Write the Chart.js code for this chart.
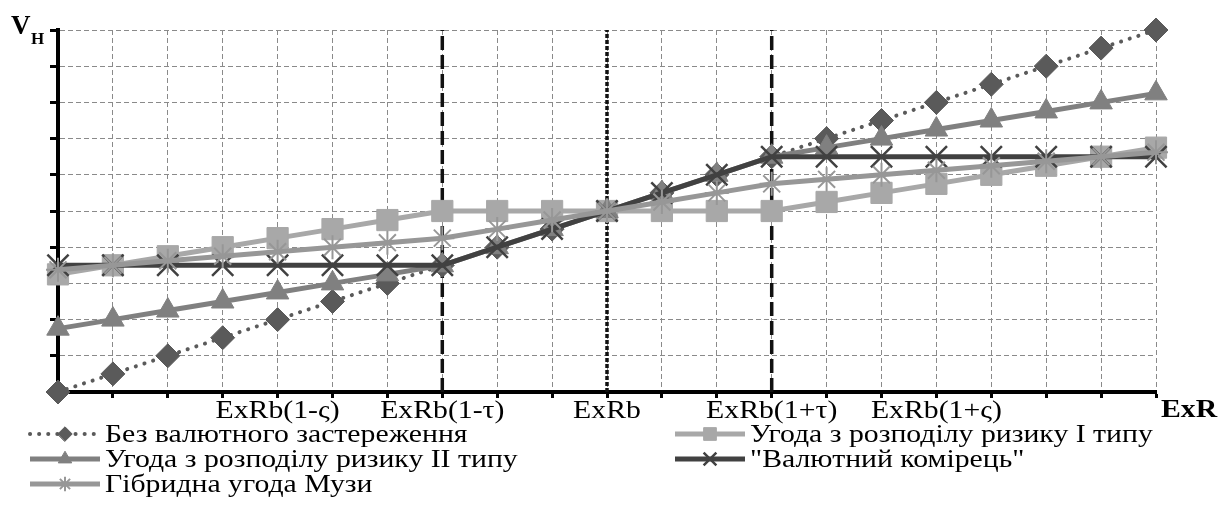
<!DOCTYPE html>
<html lang="uk">
<head>
<meta charset="UTF-8">
<title>Вартість угоди залежно від курсу</title>
<script src="https://cdn.jsdelivr.net/npm/chart.js"></script>
<style>
  html, body { margin: 0; padding: 0; background: #fff; }
  #wrap { width: 1220px; height: 525px; }
</style>
</head>
<body>
<div id="wrap"><canvas id="chart" width="1220" height="525"></canvas></div>
<script>
// exchange-rate steps along the x axis
const steps = [0, 1, 2, 3, 4, 5, 6, 7, 8, 9, 10, 11, 12, 13, 14, 15, 16, 17, 18, 19, 20];
const tickLabels = ['', '', '', '', 'ExRb(1-ς)', '', '', 'ExRb(1-τ)', '', '', 'ExRb',
  '', '', 'ExRb(1+τ)', '', '', 'ExRb(1+ς)', '', '', '', ''];

// V_H for each contract type
const noClause = [0, 0.5, 1, 1.5, 2, 2.5, 3, 3.5, 4, 4.5, 5, 5.5, 6, 6.5, 7, 7.5, 8, 8.5, 9, 9.5, 10];
const riskShare1 = [3.25, 3.5, 3.75, 4, 4.25, 4.5, 4.75, 5, 5, 5, 5, 5, 5, 5, 5.25, 5.5, 5.75, 6, 6.25, 6.5, 6.75];
const riskShare2 = [1.75, 2, 2.25, 2.5, 2.75, 3, 3.25, 3.5, 4, 4.5, 5, 5.5, 6, 6.5, 6.75, 7, 7.25, 7.5, 7.75, 8, 8.25];
const collar = [3.5, 3.5, 3.5, 3.5, 3.5, 3.5, 3.5, 3.5, 4, 4.5, 5, 5.5, 6, 6.5, 6.5, 6.5, 6.5, 6.5, 6.5, 6.5, 6.5];
const hybrid = [3.375, 3.5, 3.625, 3.75, 3.875, 4, 4.125, 4.25, 4.5, 4.75, 5, 5.25, 5.5, 5.75, 5.875, 6, 6.125, 6.25, 6.375, 6.5, 6.625];

const seriesNames = [
  'Без валютного застереження',
  'Угода з розподілу ризику I типу',
  'Угода з розподілу ризику II типу',
  '"Валютний комірець"',
  'Гібридна угода Музи'
];

// vertical boundaries: ExRb(1-τ), ExRb, ExRb(1+τ)
const boundaries = [7, 10, 13];

const toXY = (vals) => steps.map((x, i) => ({ x: x, y: vals[i] }));

const serif = '"Liberation Serif", "Times New Roman", serif';
const stretch = 1.19; // the source text is set wide

const series = [
  { label: seriesNames[0], data: toXY(noClause), borderColor: '#5a5a5a', backgroundColor: '#5a5a5a',
    borderWidth: 4, borderDash: [0.1, 9], borderCapStyle: 'round',
    pointStyle: 'rectRot', pointRadius: 12, pointBorderWidth: 1, order: 5 },
  { label: seriesNames[1], data: toXY(riskShare1), borderColor: '#a8a8a8', backgroundColor: '#a8a8a8',
    borderWidth: 5, pointStyle: 'rect', pointRadius: 15, pointBorderWidth: 1, order: 4 },
  { label: seriesNames[2], data: toXY(riskShare2), borderColor: '#808080', backgroundColor: '#808080',
    borderWidth: 5, pointStyle: 'triangle', pointRadius: 13, pointBorderWidth: 1, order: 3 },
  { label: seriesNames[3], data: toXY(collar), borderColor: '#414141', backgroundColor: '#414141',
    borderWidth: 5, pointStyle: 'crossRot', pointRadius: 15, pointBorderWidth: 2.5, order: 2 },
  { label: seriesNames[4], data: toXY(hybrid), borderColor: '#979797', backgroundColor: '#979797',
    borderWidth: 5, pointStyle: 'star', pointRadius: 12, pointBorderWidth: 2, order: 1 }
];

const boundaryLines = boundaries.map((b) => ({
  label: 'b' + b,
  data: [{ x: b, y: 0 }, { x: b, y: 10 }],
  borderColor: '#111',
  borderWidth: 3.5,
  borderDash: b === 10 ? [4, 2] : [14, 5],
  pointRadius: 0,
  order: 10
}));

// legend slots: [column x of line start, row]
const legendSlots = [[30, 0], [675, 0], [30, 1], [675, 1], [30, 2]];

function wideText(ctx, text, x, y, align) {
  ctx.save();
  ctx.translate(x, y);
  ctx.scale(stretch, 1);
  ctx.textAlign = align;
  ctx.fillText(text, 0, 0);
  ctx.restore();
}

const decorPlugin = {
  id: 'decor',
  afterDraw(chart) {
    const ctx = chart.ctx;
    const H = Chart.helpers;
    const xs = chart.scales.x;
    ctx.save();
    ctx.fillStyle = '#000';

    // category labels under the x axis
    ctx.font = '25px ' + serif;
    ctx.textBaseline = 'middle';
    steps.forEach((s, i) => {
      if (tickLabels[i]) wideText(ctx, tickLabels[i], xs.getPixelForValue(s), xs.top + 19, 'center');
    });

    // axis titles
    ctx.textBaseline = 'alphabetic';
    ctx.textAlign = 'left';
    ctx.font = 'bold 27px ' + serif;
    ctx.fillText('V', 11, 34);
    ctx.font = 'bold 17px ' + serif;
    ctx.fillText('H', 31, 44);
    ctx.font = 'bold 25px ' + serif;
    wideText(ctx, 'ExR', 1161, 417, 'left');

    // legend
    ctx.font = '25px ' + serif;
    ctx.textBaseline = 'middle';
    series.forEach((ds, i) => {
      const [x0, row] = legendSlots[i];
      const y = 434 + row * 25;
      const x1 = x0 + 70;
      ctx.save();
      ctx.strokeStyle = ds.borderColor;
      ctx.lineWidth = ds.borderWidth;
      ctx.lineCap = ds.borderCapStyle || 'butt';
      ctx.setLineDash(ds.borderDash || []);
      ctx.beginPath();
      ctx.moveTo(x0, y);
      ctx.lineTo(x1, y);
      ctx.stroke();
      ctx.setLineDash([]);
      ctx.fillStyle = ds.backgroundColor;
      ctx.lineWidth = ds.pointBorderWidth;
      H.drawPoint(ctx, { pointStyle: ds.pointStyle, rotation: 0, radius: ds.pointRadius * 0.6,
        borderWidth: ds.pointBorderWidth }, (x0 + x1) / 2, y);
      ctx.restore();
      wideText(ctx, ds.label, x1 + 5, y + 1, 'left');
    });
    ctx.restore();
  }
};

new Chart(document.getElementById('chart'), {
  type: 'line',
  data: { datasets: series.concat(boundaryLines) },
  options: {
    responsive: false,
    animation: false,
    devicePixelRatio: 1,
    clip: false,
    layout: { padding: { top: 30, right: 64, bottom: 93, left: 0 } },
    elements: { line: { tension: 0 } },
    plugins: { legend: { display: false }, tooltip: { enabled: false } },
    scales: {
      x: {
        type: 'linear', min: 0, max: 20,
        afterFit: (s) => { s.height = 40; },
        ticks: { stepSize: 1, display: false, callback: (v) => tickLabels[v] || '' },
        grid: { color: '#8a8a8a', lineWidth: 1, tickLength: 6, tickColor: '#000', tickWidth: 3, tickBorderDash: [] },
        border: { color: '#000', width: 4, dash: [5, 3] }
      },
      y: {
        min: 0, max: 10,
        afterFit: (s) => { s.width = 58; },
        ticks: { stepSize: 1, callback: () => '' },
        grid: { color: '#8a8a8a', lineWidth: 1, tickLength: 8, tickColor: '#000', tickWidth: 3, tickBorderDash: [] },
        border: { color: '#000', width: 4, dash: [5, 3] }
      }
    }
  },
  plugins: [decorPlugin]
});
</script>
</body>
</html>
